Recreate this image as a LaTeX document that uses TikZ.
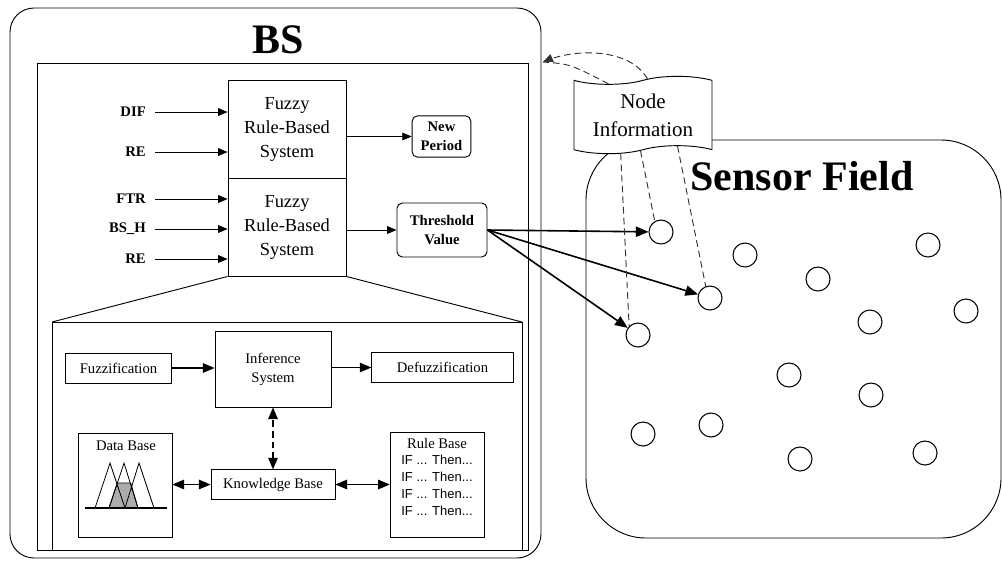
\documentclass[tikz,border=0pt]{standalone}
\usepackage{fontspec}
\setmainfont{Liberation Serif}
\setsansfont{Liberation Sans}
\usetikzlibrary{arrows,shapes.symbols}

\tikzset{
  box/.style={draw,line width=0.7pt,inner sep=0pt,align=center},
  frb/.style={box,minimum width=88.5pt,minimum height=73.5pt,font=\fontsize{13.8}{18}\selectfont},
  outbox/.style={box,rounded corners=4pt,font=\bfseries\fontsize{11}{14.5}\selectfont},
  lbl/.style={font=\bfseries\fontsize{11}{13}\selectfont,anchor=east,inner sep=0pt},
  sub/.style={box,font=\fontsize{11}{14.25}\selectfont},
  sensor/.style={circle,draw,line width=0.8pt,minimum size=18pt,inner sep=0pt},
  iftext/.style={font=\sffamily\fontsize{9.75}{11}\selectfont,inner sep=0pt},
  infolink/.style={dashed,dash pattern=on 5pt off 3pt,line width=0.7pt,black!80},
}

\begin{document}
\begin{tikzpicture}[x=0.75pt,y=-0.75pt,>=triangle 45]
\useasboundingbox (0,0) rectangle (1002,565);
% base station
\draw[line width=0.7pt,rounded corners=18pt] (10,8) rectangle (541,558);
\node[font=\bfseries\fontsize{31.5}{32}\selectfont] (bs) at (278,40) {BS};
\draw[line width=0.7pt] (37,63) rectangle (528,550);

\node[frb] (frb1) at (287,129) {Fuzzy\\Rule-Based\\System};
\node[frb] (frb2) at (287,227) {Fuzzy\\Rule-Based\\System};
\foreach \n/\t/\y/\b in {dif/DIF/112/frb1,re1/RE/152/frb1,ftr/FTR/199/frb2,bsh/BS\_H/229/frb2,re2/RE/259/frb2} {%
  \node[lbl] (\n) at (146,\y) {\t};
  \draw[->,line width=0.6pt] ([xshift=7pt]\n.east) -- (\n.east -| \b.west);
}
\node[outbox,minimum width=44pt,minimum height=31pt] (newp) at (441.5,136.5) {New\\Period};
\node[outbox,minimum width=67.5pt,minimum height=40.5pt] (thr) at (442,230) {Threshold\\Value};
\draw[->,line width=0.6pt] (frb1.east |- newp) -- (newp.west);
\draw[->,line width=0.6pt] (frb2.east |- thr) -- (thr.west);

% inside of the fuzzy system
\coordinate (dnw) at (52,322);
\coordinate (dne) at (522,322);
\draw[line width=0.7pt] (frb2.south west) -- (dnw) (frb2.south east) -- (dne);
\draw[line width=0.7pt] (dnw) rectangle (522,550);
\node[sub,minimum width=80pt,minimum height=22.5pt] (fuzz) at (118.5,368) {Fuzzification};
\node[sub,minimum width=87pt,minimum height=57pt] (infs) at (273,369) {Inference\\System};
\node[sub,minimum width=106pt,minimum height=23pt] (defz) at (442.5,367.5) {Defuzzification};
\node[sub,minimum width=93pt,minimum height=22pt] (kb) at (273,484.5) {Knowledge Base};
\node[sub,minimum width=70.5pt,minimum height=78pt] (db) at (125,485) {};
\node[sub,minimum width=71pt,minimum height=78.75pt] (rb) at (437.5,484.5) {};
\node[font=\fontsize{11}{13}\selectfont] (dbt) at (126,446) {Data Base};
\node[font=\fontsize{11}{13}\selectfont] (rbt) at (437,443) {Rule Base};
\foreach \k/\y in {1/460,2/477,3/494,4/511}
  \node[iftext] (if\k) at (437,\y) {IF ... Then...};
\draw[->,line width=1pt] (fuzz) -- (infs.west |- fuzz);
\draw[->,line width=1pt] (infs.east |- defz) -- (defz);
\draw[<->,dashed,dash pattern=on 5pt off 3pt,line width=1pt] (infs) -- (kb);
\draw[<->,line width=1pt] (db.east |- kb) -- (kb);
\draw[<->,line width=1pt] (kb) -- (rb.west |- kb);
% membership functions
\filldraw[fill=gray!65,line width=0.6pt] (109,508) -- (117.3,483) -- (130.7,483) -- (138,508) -- cycle;
\draw[line width=0.6pt] (95,508) -- (110,463) -- (125,508) (109,508) -- (124,463) -- (138,508)
  (125,508) -- (139,463) -- (154,508);
\draw[line width=1pt] (85,508) -- (167,508);

% sensor field
\draw[line width=0.7pt,rounded corners=45pt] (586,140) rectangle (1001,538);
\node[font=\bfseries\fontsize{31.5}{32}\selectfont] (sf) at (802,176) {Sensor Field};
\foreach \n/\x/\y in {s1/661/232,s2/745/255,s3/818/279,s4/928/245,s5/710/298,s6/638/335,s7/870/322,
  s8/966/311,s9/789/375,s10/871/395,s11/643/434,s12/711/425,s13/800/459,s14/925/453}
  \node[sensor] (\n) at (\x,\y) {};
\foreach \n in {s1,s5,s6}
  \draw[->,line width=1.2pt] (thr.east) -- (\n);

\node[tape,draw,fill=white,line width=0.7pt,minimum width=103.5pt,minimum height=58pt,tape bend height=6pt,
  align=center,font=\fontsize{15.75}{21}\selectfont] (info) at (643,115) {Node\\Information};
\coordinate (bsin) at (543,62);
\draw[infolink,->] (info.83) .. controls (630,48) and (575,48) .. (bsin);
\draw[infolink] (info.145) .. controls (570,64) .. (bsin);
\draw[infolink] (info.240) -- (s6.135);
\draw[infolink] (info.266) -- (s1.120);
\draw[infolink] (info.313) -- (s5.110);
\end{tikzpicture}
\end{document}
